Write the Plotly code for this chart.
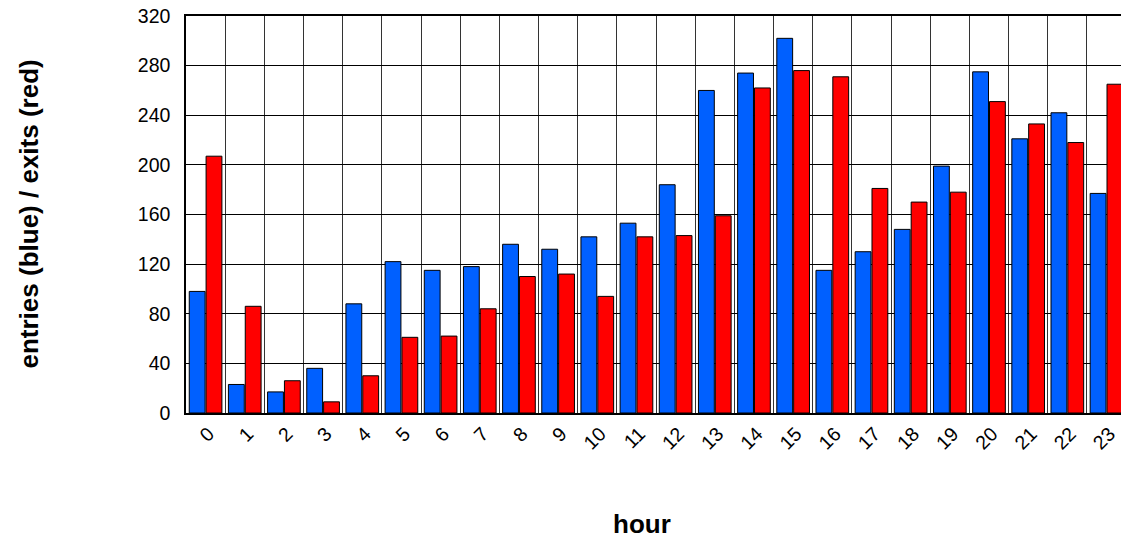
import plotly.graph_objects as go

# hourly counts
hours = [str(h) for h in range(24)]
entries = [98, 23, 17, 36, 88, 122, 115, 118, 136, 132, 142, 153,
           184, 260, 274, 302, 115, 130, 148, 199, 275, 221, 242, 177]
exits = [207, 86, 26, 9, 30, 61, 62, 84, 110, 112, 94, 142,
         143, 159, 262, 276, 271, 181, 170, 178, 251, 233, 218, 265]
y_ticks = [0, 40, 80, 120, 160, 200, 240, 280, 320]

fig = go.Figure()
fig.add_trace(go.Bar(x=hours, y=entries, name="entries",
                     marker=dict(color="rgb(0,96,255)", line=dict(color="black", width=1))))
fig.add_trace(go.Bar(x=hours, y=exits, name="exits",
                     marker=dict(color="rgb(255,0,0)", line=dict(color="black", width=1))))

fig.update_layout(
    width=1121, height=543,
    margin=dict(l=186, r=0, t=16, b=130, autoexpand=False),
    paper_bgcolor="white", plot_bgcolor="white",
    barmode="group", bargap=0.14, bargroupgap=0.06,
    showlegend=False,
    font=dict(family="Liberation Sans, Arial", size=18, color="black"),
)

# x axis: grid lines sit on the category boundaries, right end is cut off
fig.update_xaxes(
    type="category", tickson="boundaries", range=[-0.5, 23.37],
    automargin=False,
    showgrid=True, gridcolor="#333", gridwidth=1,
    showline=True, linecolor="black", linewidth=1.5, mirror=True,
    ticks="", tickangle=-45, ticklabelstandoff=0, ticklabelshift=3,
    ticklabeloverflow="allow",
    tickfont=dict(size=19.5),
)

fig.update_yaxes(
    range=[0, 320], tickvals=y_ticks, automargin=False,
    showgrid=True, gridcolor="black", gridwidth=1,
    showline=True, linecolor="black", linewidth=1.5,
    ticks="", ticklabelstandoff=10, zeroline=False,
    ticklabeloverflow="allow",
    tickfont=dict(size=19.5),
)

# axis titles
fig.add_annotation(text="<b>hour</b>", xref="paper", yref="paper",
                   x=(642 - 186) / 935, y=-(524 - 413) / 397,
                   xanchor="center", yanchor="middle", showarrow=False,
                   font=dict(size=26))
fig.add_annotation(text="<b>entries (blue) / exits (red)</b>", xref="paper", yref="paper",
                   x=-(186 - 28) / 935, y=0.5, textangle=-90,
                   xanchor="center", yanchor="middle", showarrow=False,
                   font=dict(size=26))

# drop the default 8px page margin so the figure fills the window
fig.write_html("out.html", config={"displayModeBar": False},
               post_script="document.body.style.margin='0';")
